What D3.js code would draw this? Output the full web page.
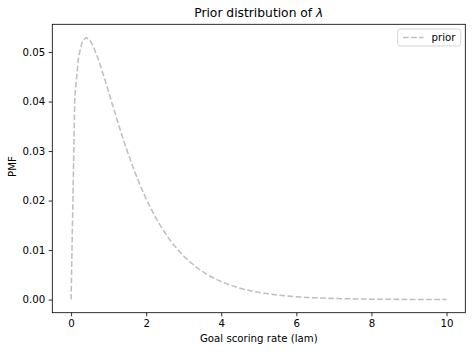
<!DOCTYPE html>
<html><head><meta charset="utf-8">
<script src="https://cdn.jsdelivr.net/npm/d3@7"></script>
<style>body{margin:0;background:#fff}svg{display:block}text{font-family:"DejaVu Sans",sans-serif;fill:#000}</style>
</head><body><svg id="c" width="472" height="352"></svg>
<script>
const lam = d3.range(101).map(i => +(i/10).toFixed(1));
const pmf = [0,0.04105,0.04902,0.05216,0.05295,0.05239,0.05099,0.04907,0.04684,0.04443,
0.04193,0.03942,0.03693,0.03450,0.03216,0.02991,0.02777,0.02575,0.02384,0.02204,
0.02035,0.01878,0.01731,0.01594,0.01467,0.01350,0.01240,0.01140,0.01046,0.00960,
0.00881,0.00807,0.00740,0.00678,0.00620,0.00568,0.00520,0.00476,0.00435,0.00398,
0.003634,0.003321,0.003034,0.002772,0.002531,0.002311,0.002109,0.001925,0.001757,0.001603,
0.001462,0.001333,0.001216,0.001109,0.001011,0.000921,0.000839,0.000765,0.000697,0.000635,
0.000578,0.000527,0.000480,0.000437,0.000398,0.000362,0.000330,0.000300,0.000273,0.000249,
0.000226,0.000206,0.000187,0.000171,0.000155,0.000141,0.000128,0.000117,0.000106,0.0000966,
0.0000878,0.0000799,0.0000727,0.0000661,0.0000601,0.0000546,0.0000496,0.0000451,0.0000410,0.0000373,
0.0000339,0.0000308,0.0000280,0.0000254,0.0000231,0.0000210,0.0000191,0.0000173,0.0000157,0.0000143,
0.0000130];
const xTicks = [0,2,4,6,8,10];
const yTicks = [0,0.01,0.02,0.03,0.04,0.05];
const seriesName = "prior";

const svg = d3.select("#c");
const L=52.3, R=465.3, T=24.3, B=312.7;
const x = d3.scaleLinear().domain([-0.5,10.5]).range([L,R]);
const ymax = d3.max(pmf), pad = ymax*0.05;
const y = d3.scaleLinear().domain([-pad, ymax+pad]).range([B,T]);

const line = d3.line().x((d,i)=>x(lam[i])).y(d=>y(d));
svg.append("path").datum(pmf).attr("d",line).attr("fill","none")
  .attr("stroke","#7f7f7f").attr("stroke-opacity",0.5).attr("stroke-width",1.54)
  .attr("stroke-dasharray","5.7,2.46");

const xa = svg.append("g").attr("transform",`translate(0,${B})`)
  .call(d3.axisBottom(x).tickValues(xTicks).tickFormat(d3.format("d")).tickSize(3.6).tickPadding(3.6));
const ya = svg.append("g").attr("transform",`translate(${L},0)`)
  .call(d3.axisLeft(y).tickValues(yTicks).tickFormat(d3.format(".2f")).tickSize(3.6).tickPadding(3.6));
[xa,ya].forEach(g=>{g.select(".domain").remove();g.selectAll("text").style("font-size","10.2px").style("font-family","DejaVu Sans");g.selectAll("line").attr("stroke-width",0.82);});

svg.append("rect").attr("x",L).attr("y",T).attr("width",R-L).attr("height",B-T)
  .attr("fill","none").attr("stroke","#000").attr("stroke-width",0.82);

const t = svg.append("text").attr("x",(L+R)/2).attr("y",17).attr("text-anchor","middle").style("font-size","12.3px");
t.append("tspan").text("Prior distribution of ");
t.append("tspan").style("font-style","italic").text("λ");

svg.append("text").attr("x",(L+R)/2).attr("y",342).attr("text-anchor","middle").style("font-size","10.2px").text("Goal scoring rate (lam)");
svg.append("text").attr("transform",`translate(15.5,166.5) rotate(-90)`).attr("text-anchor","middle").style("font-size","10.2px").text("PMF");

const lg = svg.append("g");
lg.append("rect").attr("x",397.7).attr("y",29).attr("width",63).attr("height",17).attr("rx",2.5)
  .attr("fill","#fff").attr("fill-opacity",0.8).attr("stroke","#cccccc").attr("stroke-width",0.82);
lg.append("line").attr("x1",403).attr("x2",423.5).attr("y1",37.5).attr("y2",37.5)
  .attr("stroke","#7f7f7f").attr("stroke-opacity",0.5).attr("stroke-width",1.54).attr("stroke-dasharray","5.7,2.46");
lg.append("text").attr("x",431.5).attr("y",41.2).style("font-size","10.2px").text(seriesName);
</script></body></html>
